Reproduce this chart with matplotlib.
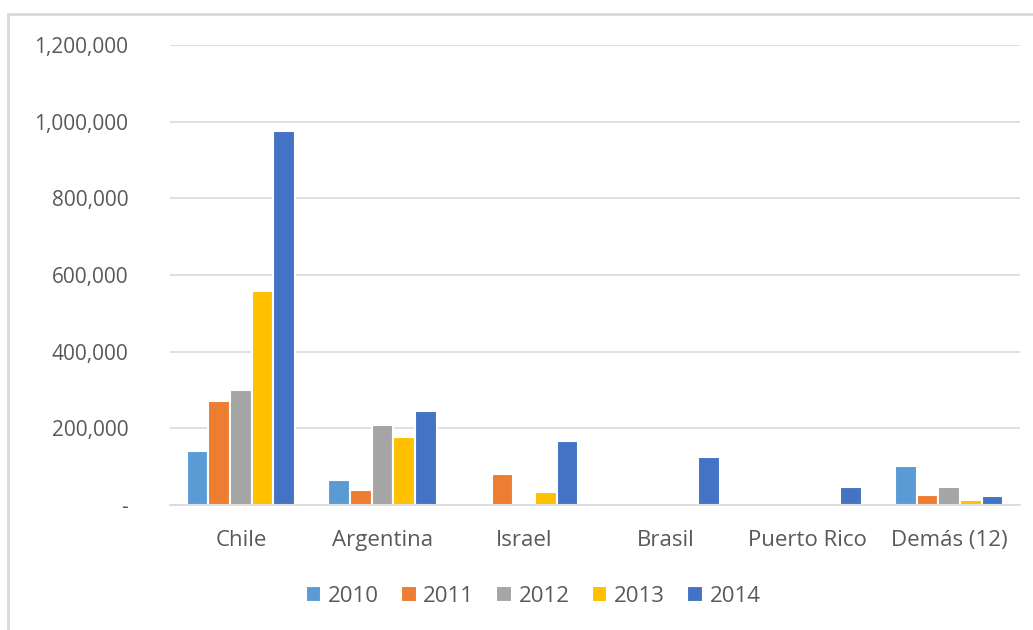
import numpy as np
import matplotlib.pyplot as plt
from matplotlib.patches import Rectangle
from matplotlib.ticker import FuncFormatter

categories = ['Chile', 'Argentina', 'Israel', 'Brasil', 'Puerto Rico', 'Demás (12)']
years = ['2010', '2011', '2012', '2013', '2014']
v2010 = [140000, 65000, 0, 0, 0, 102000]
v2011 = [271000, 39000, 81000, 0, 0, 26000]
v2012 = [300000, 210000, 0, 0, 0, 48000]
v2013 = [557000, 177000, 35000, 0, 0, 12000]
v2014 = [976000, 245000, 168000, 124000, 48000, 23000]
series = [v2010, v2011, v2012, v2013, v2014]
colors = ['#5B9BD5', '#ED7D31', '#A5A5A5', '#FFC000', '#4472C4']

plt.rcParams['font.family'] = ['Open Sans', 'DejaVu Sans']

fig = plt.figure(figsize=(10.33, 6.30), dpi=100)
ax = fig.add_axes([170/1033, 1-505/630, 850/1033, 460/630])

x = np.arange(len(categories))
step = 0.153
for i, (vals, c) in enumerate(zip(series, colors)):
    # no outline on empty bars, otherwise white ticks show on the baseline
    edges = ['white' if v > 0 else 'none' for v in vals]
    ax.bar(x + (i - 2) * step, vals, width=step, color=c,
           edgecolor=edges, linewidth=1.5, label=years[i], zorder=3)

ax.set_xlim(-0.5, len(categories) - 0.5)
ax.set_ylim(0, 1200000)
ax.set_yticks(np.arange(0, 1200001, 200000))
ax.yaxis.set_major_formatter(FuncFormatter(lambda v, p: '-' if v == 0 else f'{int(v):,}'))
ax.set_xticks(x)
ax.set_xticklabels(categories)
ax.tick_params(axis='both', length=0, colors='#595959')
ax.tick_params(axis='x', pad=18, labelsize=16)
ax.tick_params(axis='y', pad=30, labelsize=15)
ax.grid(axis='y', color='#d9d9d9', linewidth=1.2, zorder=0)
for s in ['top', 'right', 'left']:
    ax.spines[s].set_visible(False)
ax.spines['bottom'].set_color('#d9d9d9')
ax.spines['bottom'].set_linewidth(1.2)
ax.spines['bottom'].set_zorder(4)

fig.legend(loc='center', bbox_to_anchor=(0.516, 1-596/630), ncol=5, frameon=False,
           fontsize=16, handlelength=0.7, handleheight=0.7, handletextpad=0.3,
           columnspacing=1.0, labelcolor='#595959')

fig.patches.append(Rectangle((8/1033, -0.1), 1.2, 0.1 + 1-14/630, transform=fig.transFigure,
                             fill=False, edgecolor='#d9d9d9', linewidth=2))

fig.savefig('out.png', dpi=100)
